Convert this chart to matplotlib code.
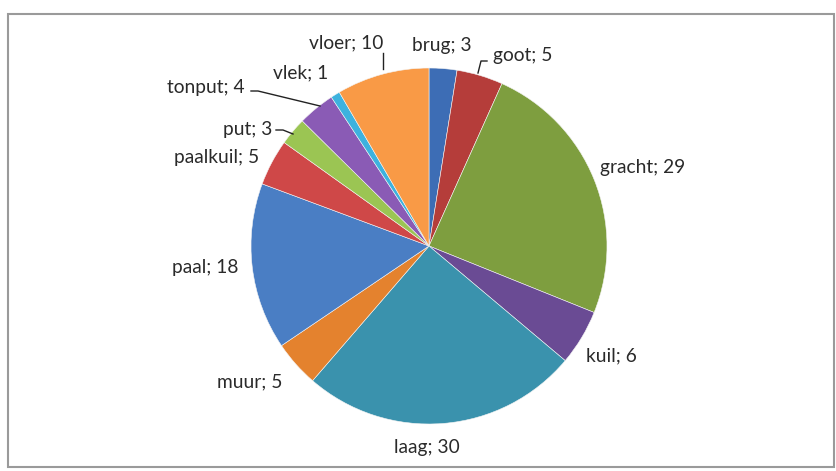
import matplotlib
matplotlib.use("Agg")
import matplotlib.pyplot as plt
from matplotlib.patches import Rectangle
import numpy as np

categories = ["brug", "goot", "gracht", "kuil", "laag", "muur", "paal",
              "paalkuil", "put", "tonput", "vlek", "vloer"]
values = [3, 5, 29, 6, 30, 5, 18, 5, 3, 4, 1, 10]
colors = ["#3D6DB5", "#B53D3A", "#7E9E3F", "#6A4B94", "#3A92AD", "#E4822E",
          "#4A7EC4", "#CF4848", "#9BC553", "#8A5BB5", "#3DB2DE", "#F99A46"]

W, H = 837, 471
# label centre positions in pixel coords (x, y from top)
label_pos = {
    "brug": (442, 45), "goot": (523, 55), "gracht": (643, 167), "kuil": (611, 356),
    "laag": (427, 447), "muur": (250, 382), "paal": (205, 268), "paalkuil": (217, 158),
    "put": (248, 129), "tonput": (206, 88), "vlek": (301, 73), "vloer": (346, 43),
}
# leader lines: polyline in pixel coords ending on the wedge
leaders = {
    "vloer": [(383, 53), (383, 69)],
    "goot": [(487, 61), (481, 61), (478, 73)],
    "tonput": [(251, 91), (258, 91), (320, 106)],
    "put": [(276, 130), (283, 130), (293, 134)],
}

fig = plt.figure(figsize=(W / 100, H / 100), dpi=100)
ax = fig.add_axes([0, 0, 1, 1])

cx, cy, r = 429, 246, 178
ax.pie(values, colors=colors, startangle=-90, counterclock=True,
       center=(cx, cy), radius=r, frame=True,
       wedgeprops=dict(edgecolor="#f4f4f4", linewidth=0.4))
ax.set_xlim(0, W)
ax.set_ylim(H, 0)
ax.set_aspect("auto")
ax.axis("off")

for cat, val in zip(categories, values):
    x, y = label_pos[cat]
    ax.text(x, y, f"{cat}; {val}", ha="center", va="center", fontsize=13.8,
            family=["Lato", "DejaVu Sans"], color="#2a2a2a")

for cat, pts in leaders.items():
    xs, ys = zip(*pts)
    ax.plot(xs, ys, color="#222222", lw=1.0)

# chart frame
fig.patches.append(Rectangle((8 / W, 1 - 467 / H), (834 - 8) / W, (467 - 14) / H,
                             transform=fig.transFigure, fill=False,
                             edgecolor="#9a9a9a", linewidth=1.5))

fig.savefig("out.png", dpi=100)
